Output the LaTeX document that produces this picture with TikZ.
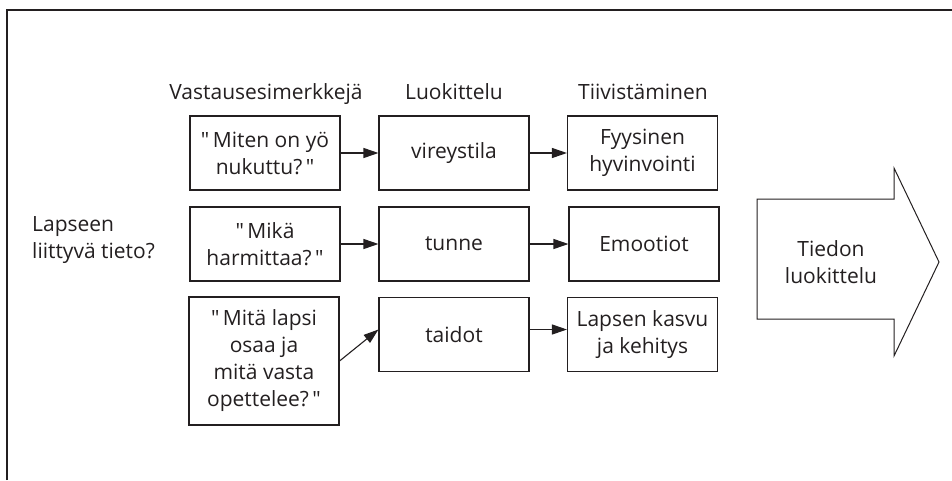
\documentclass[tikz,border=0pt]{standalone}
\usepackage{fontspec}
\setmainfont{Open Sans}[Ligatures=TeXOff]
\usetikzlibrary{arrows.meta, positioning}
\definecolor{ink}{HTML}{231F20}

\begin{document}
\begin{tikzpicture}[
    x=1pt, y=-1pt,
    font=\fontsize{21}{27}\selectfont,
    every node/.style={text=ink},
    box/.style={draw=ink, line width=1.1pt, rectangle, minimum width=150pt, minimum height=74pt, align=center, inner sep=0pt},
    tall/.style={box, minimum height=128pt},
    head/.style={anchor=base, inner sep=0pt},
    arr/.style={-{Triangle[length=15pt,width=10pt]}, draw=ink, line width=1.1pt}
]
\useasboundingbox (0,0) rectangle (952,480);
\draw[ink, line width=1.6pt] (7,480) -- (7,10) -- (952,10);

\node[head] (hvast) at (266,99) {Vastausesimerkkejä};
\node[head] (hluok) at (454,99) {Luokittelu};
\node[head] (htiiv) at (643,99) {Tiivistäminen};

\node[align=left, anchor=west, inner sep=0pt] (lapsi) at (32,240) {Lapseen\\liittyvä tieto?};

\node[box] (q1) at (265,153) {"\,Miten on yö\\nukuttu?\,"};
\node[box] (q2) at (265,244) {"\,Mikä\\harmittaa?\,"};
\node[tall] (q3) at (264,361) {"\,Mitä lapsi\\osaa ja\\mitä vasta\\opettelee?\,"};

\node[box] (c1) at (454,153) {vireystila};
\node[box] (c2) at (454,244) {tunne};
\node[box] (c3) at (454,334.5) {taidot};

\node[box] (t1) at (642.5,153) {Fyysinen\\hyvinvointi};
\node[box] (t2) at (644,244) {Emootiot};
\node[box] (t3) at (642.5,334.5) {Lapsen kasvu\\ja kehitys};

\draw[arr] (q1.east) -- (c1.west);
\draw[arr] (c1.east) -- (t1.west);
\draw[arr] (q2.east) -- (c2.west);
\draw[arr] (c2.east) -- (t2.west);
\draw[arr] (q3.east) -- ([yshift=5pt]c3.west);
\draw[arr] ([yshift=5pt]c3.east) -- ([yshift=5pt]t3.west);

\node[align=center] (tiedon) at (831,262) {Tiedon\\luokittelu};
\draw[ink, line width=1pt] (757,199) -- (894,199) -- (894,168) -- (939,262) -- (894,356) -- (894,319) -- (757,319) -- cycle;

\end{tikzpicture}
\end{document}
